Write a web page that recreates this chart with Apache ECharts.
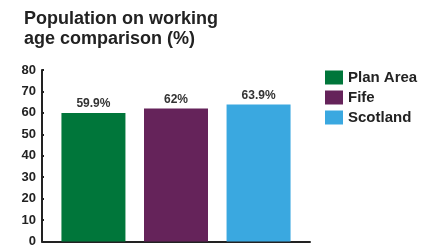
<!DOCTYPE html>
<html>
<head>
<meta charset="utf-8">
<script src="https://cdn.jsdelivr.net/npm/echarts@6/dist/echarts.min.js"></script>
<style>
  html, body { margin: 0; padding: 0; background: #fff; }
  #chart { width: 421px; height: 248px; }
</style>
</head>
<body>
<div id="chart"></div>
<script>
const seriesNames = ['Plan Area', 'Fife', 'Scotland'];
const seriesValues = [59.9, 62, 63.9];
const seriesLabels = ['59.9%', '62%', '63.9%'];
const seriesColors = ['#00763a', '#65235a', '#3aa8e0'];

const FONT = 'Liberation Sans';
const chart = echarts.init(document.getElementById('chart'));

const option = {
  animation: false,
  textStyle: { fontFamily: FONT },
  title: {
    text: 'Population on working\nage comparison (%)',
    left: 19,
    top: 4,
    textStyle: { fontFamily: FONT, fontSize: 18, fontWeight: 'bold', color: '#222', lineHeight: 20 }
  },
  legend: {
    orient: 'vertical',
    left: 320,
    top: 65,
    itemWidth: 18,
    itemHeight: 14,
    itemGap: 5,
    icon: 'rect',
    textStyle: { fontFamily: FONT, fontSize: 15, fontWeight: 'bold', color: '#222' },
    data: seriesNames
  },
  grid: { left: 42, right: 111, top: 70, bottom: 5 },
  xAxis: {
    type: 'category',
    data: [''],
    axisLine: { lineStyle: { color: '#222', width: 2 } },
    axisTick: { show: false },
    axisLabel: { show: false }
  },
  yAxis: {
    type: 'value',
    min: 0,
    max: 80,
    interval: 10,
    splitLine: { show: false },
    axisLine: { show: true, lineStyle: { color: '#222', width: 2 } },
    axisTick: { show: true, inside: true, length: 2, lineStyle: { color: '#222', width: 2 } },
    axisLabel: { fontFamily: FONT, fontSize: 13, fontWeight: 'bold', color: '#222', margin: 6 }
  },
  series: seriesNames.map((name, i) => ({
    name: name,
    type: 'bar',
    barWidth: 64,
    barGap: '29%',
    itemStyle: { color: seriesColors[i] },
    label: {
      show: true,
      position: 'top',
      distance: 3,
      formatter: seriesLabels[i],
      fontFamily: FONT,
      fontSize: 12,
      fontWeight: 'bold',
      color: '#333'
    },
    data: [seriesValues[i]]
  }))
};

chart.setOption(option);
</script>
</body>
</html>
